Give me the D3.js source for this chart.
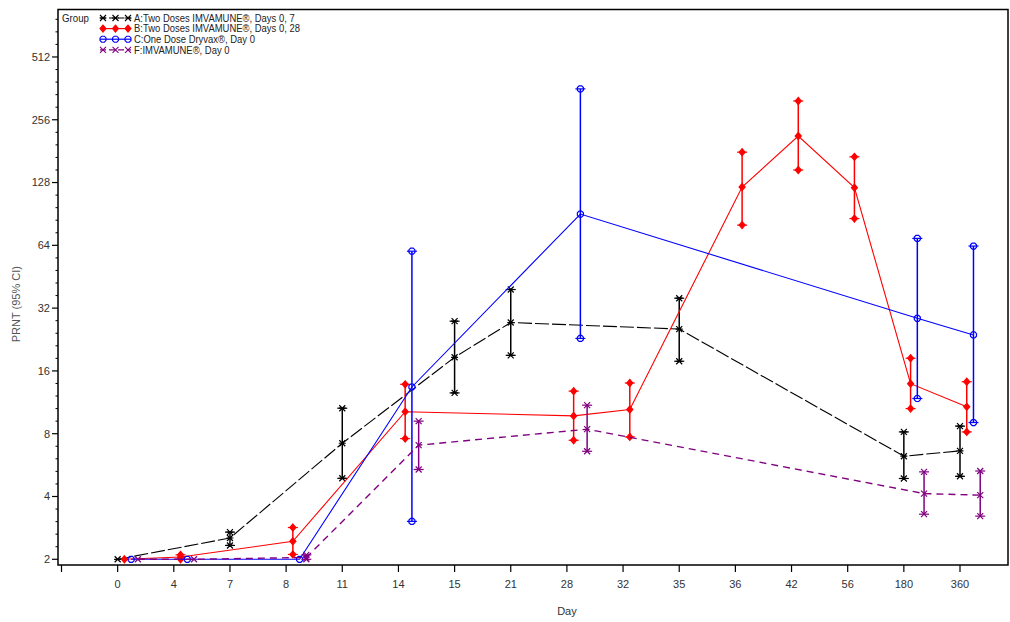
<!DOCTYPE html>
<html>
<head>
<meta charset="utf-8">
<script src="https://cdn.jsdelivr.net/npm/d3@7"></script>
<style>
  body { margin: 0; background: #fff; }
  text { font-family: "Liberation Sans", Arial, sans-serif; }
</style>
</head>
<body>
<div id="d3-container"></div>
<script>
/**
 * CONSTANTS AND GLOBALS
 * */
const width = 1010,
  height = 622,
  frame = { left: 58, right: 1008, top: 9.5, bottom: 565 };

// x categories (study days)
const days = ["0", "4", "7", "8", "11", "14", "15", "21", "28", "32", "35", "36", "42", "56", "180", "360"];

// y tick labels
const yTicks = [2, 4, 8, 16, 32, 64, 128, 256, 512];

// group A: two doses IMVAMUNE, days 0, 7
const aDays = ["0", "7", "11", "15", "21", "35", "180", "360"];
const aGmt = [2.0, 2.53, 7.2, 18.6, 27.3, 25.4, 6.24, 6.62];
const aLow = [2.0, 2.33, 4.89, 12.55, 19.0, 17.8, 4.88, 5.0];
const aHigh = [2.0, 2.7, 10.6, 27.7, 39.3, 35.7, 8.16, 8.7];

// group B: two doses IMVAMUNE, days 0, 28
const bDays = ["0", "4", "8", "14", "28", "32", "36", "42", "56", "180", "360"];
const bGmt = [2.0, 2.05, 2.44, 10.2, 9.74, 10.45, 121.8, 214, 121, 13.9, 10.76];
const bLow = [2.0, 2.0, 2.11, 7.58, 7.44, 7.72, 80, 147, 86, 10.56, 8.16];
const bHigh = [2.0, 2.1, 2.84, 13.8, 12.8, 14.0, 179, 315, 170, 18.4, 14.2];

// group C: one dose Dryvax, day 0
const cDays = ["0", "4", "8", "14", "28", "180", "360"];
const cGmt = [2.0, 2.0, 2.0, 13.4, 90.4, 28.6, 23.8];
const cLow = [2.0, 2.0, 2.0, 3.04, 22.9, 11.8, 9.05];
const cHigh = [2.0, 2.0, 2.0, 60, 360, 69.1, 63.5];

// group F: IMVAMUNE, day 0
const fDays = ["0", "4", "8", "14", "28", "180", "360"];
const fGmt = [2.0, 2.0, 2.04, 7.05, 8.41, 4.13, 4.06];
const fLow = [2.0, 2.0, 2.0, 5.39, 6.59, 3.29, 3.22];
const fHigh = [2.0, 2.0, 2.1, 9.19, 10.96, 5.25, 5.3];

const groupNames = [
  "A:Two Doses IMVAMUNE\u00ae, Days 0, 7",
  "B:Two Doses IMVAMUNE\u00ae, Days 0, 28",
  "C:One Dose Dryvax\u00ae, Day 0",
  "F:IMVAMUNE\u00ae, Day 0"
];

// styles per group (colour, dash, marker, small sideways shift so bars don't overlap)
const styles = [
  { color: "#000000", dash: "14,3", marker: "star", shift: 0, width: 1.1 },
  { color: "#ff0000", dash: null, marker: "diamond", shift: 0.12, width: 1.1 },
  { color: "#0000ff", dash: null, marker: "circle", shift: 0.24, width: 1.1 },
  { color: "#800080", dash: "7,5", marker: "x", shift: 0.36, width: 1.4 }
];

function makeSeries(dayList, gmt, low, high) {
  return dayList.map((d, i) => ({ day: d, gmt: gmt[i], low: low[i], high: high[i] }));
}

const series = [
  makeSeries(aDays, aGmt, aLow, aHigh),
  makeSeries(bDays, bGmt, bLow, bHigh),
  makeSeries(cDays, cGmt, cLow, cHigh),
  makeSeries(fDays, fGmt, fLow, fHigh)
];

let svg, x, y;

init();

function init() {
  svg = d3.select("#d3-container")
    .append("svg")
    .attr("width", width)
    .attr("height", height);

  // index scale for the categorical days (one blank slot left of day 0)
  x = d3.scaleLinear().domain([-1, 15]).range([61.5, 960]);
  y = d3.scaleLog().base(2)
    .domain([Math.pow(2, 0.909), Math.pow(2, 9.756)])
    .range([frame.bottom, frame.top]);

  const px = (day, s) => x(days.indexOf(day) + s.shift);

  // frame
  svg.append("rect")
    .attr("x", frame.left)
    .attr("y", frame.top)
    .attr("width", frame.right - frame.left)
    .attr("height", frame.bottom - frame.top)
    .attr("fill", "none")
    .attr("stroke", "#000")
    .attr("stroke-width", 1.5);

  // y axis major ticks + labels
  const yAxis = svg.append("g").attr("class", "y-axis");
  yAxis.selectAll("line.major")
    .data(yTicks)
    .join("line")
    .attr("class", "major")
    .attr("x1", frame.left - 6).attr("x2", frame.left)
    .attr("y1", d => y(d)).attr("y2", d => y(d))
    .attr("stroke", "#000").attr("stroke-width", 1.2);
  yAxis.selectAll("text")
    .data(yTicks)
    .join("text")
    .attr("x", frame.left - 8)
    .attr("y", d => y(d))
    .attr("dy", "0.35em")
    .attr("text-anchor", "end")
    .attr("font-size", 11)
    .attr("fill", "#333")
    .text(d => d);

  // minor ticks: 4 evenly in log space between each doubling
  const minors = [];
  [1].concat(yTicks).forEach(t => {
    for (let k = 1; k < 5; k++) minors.push(t * Math.pow(2, k / 5));
  });
  yAxis.selectAll("line.minor")
    .data(minors.filter(v => y(v) >= frame.top + 2 && y(v) <= frame.bottom - 1))
    .join("line")
    .attr("class", "minor")
    .attr("x1", frame.left - 2.5).attr("x2", frame.left)
    .attr("y1", d => y(d)).attr("y2", d => y(d))
    .attr("stroke", "#000").attr("stroke-width", 1);

  svg.append("text")
    .attr("transform", `translate(20,${(y(16) + y(64)) / 2 - 4}) rotate(-90)`)
    .attr("text-anchor", "middle")
    .attr("font-size", 11)
    .attr("fill", "#555")
    .text("PRNT (95% CI)");

  // x axis ticks + labels
  const xAxis = svg.append("g").attr("class", "x-axis");
  xAxis.selectAll("line")
    .data(d3.range(-1, 16))
    .join("line")
    .attr("x1", d => x(d)).attr("x2", d => x(d))
    .attr("y1", frame.bottom).attr("y2", frame.bottom + 7)
    .attr("stroke", "#000").attr("stroke-width", 1.2);
  xAxis.selectAll("text")
    .data(days)
    .join("text")
    .attr("x", (d, i) => x(i))
    .attr("y", frame.bottom + 23)
    .attr("text-anchor", "middle")
    .attr("font-size", 11)
    .attr("fill", "#333")
    .text(d => d);

  svg.append("text")
    .attr("x", x(8))
    .attr("y", 615)
    .attr("text-anchor", "middle")
    .attr("font-size", 11)
    .attr("fill", "#333")
    .text("Day");

  // series: lines, error bars, markers
  series.forEach((data, gi) => {
    const s = styles[gi];
    const g = svg.append("g").attr("class", "group-" + gi);

    const line = d3.line()
      .x(d => px(d.day, s))
      .y(d => y(d.gmt));

    g.append("path")
      .datum(data)
      .attr("d", line)
      .attr("fill", "none")
      .attr("stroke", s.color)
      .attr("stroke-width", s.width)
      .attr("stroke-dasharray", s.dash);

    const bars = data.filter(d => y(d.low) - y(d.high) > 1);
    g.selectAll("line.bar")
      .data(bars)
      .join("line")
      .attr("class", "bar")
      .attr("x1", d => px(d.day, s)).attr("x2", d => px(d.day, s))
      .attr("y1", d => y(d.low)).attr("y2", d => y(d.high))
      .attr("stroke", s.color)
      .attr("stroke-width", 1.5);

    const caps = [];
    bars.forEach(d => {
      caps.push({ day: d.day, v: d.low });
      caps.push({ day: d.day, v: d.high });
    });
    g.selectAll("line.cap")
      .data(caps)
      .join("line")
      .attr("class", "cap")
      .attr("x1", d => px(d.day, s) - 5).attr("x2", d => px(d.day, s) + 5)
      .attr("y1", d => y(d.v)).attr("y2", d => y(d.v))
      .attr("stroke", s.color)
      .attr("stroke-width", 1.2);

    const pts = data.map(d => ({ day: d.day, v: d.gmt })).concat(caps);
    g.selectAll("path.marker")
      .data(pts)
      .join("path")
      .attr("class", "marker")
      .attr("transform", d => `translate(${px(d.day, s)},${y(d.v)})`)
      .attr("d", markerPath(s.marker))
      .attr("fill", s.marker === "diamond" ? s.color : "none")
      .attr("stroke", s.color)
      .attr("stroke-width", 1.2);
  });

  // legend
  const legend = svg.append("g").attr("class", "legend");
  legend.append("text")
    .attr("transform", "translate(62,18) scale(0.88,1)")
    .attr("dy", "0.35em")
    .attr("font-size", 11)
    .attr("fill", "#222")
    .text("Group");
  groupNames.forEach((name, i) => {
    const s = styles[i];
    const ly = 18 + i * 10.6;
    legend.append("line")
      .attr("x1", 100).attr("x2", 131)
      .attr("y1", ly).attr("y2", ly)
      .attr("stroke", s.color)
      .attr("stroke-width", 1.2)
      .attr("stroke-dasharray", s.dash ? "6,3" : null);
    [103, 115.5, 128].forEach(mx => {
      legend.append("path")
        .attr("transform", `translate(${mx},${ly})`)
        .attr("d", markerPath(s.marker))
        .attr("fill", s.marker === "diamond" ? s.color : "none")
        .attr("stroke", s.color)
        .attr("stroke-width", 1.1);
    });
    legend.append("text")
      .attr("transform", `translate(134,${ly}) scale(0.86,1)`)
      .attr("dy", "0.35em")
      .attr("font-size", 11)
      .attr("fill", "#222")
      .text(name);
  });
}

function markerPath(type) {
  if (type === "diamond") return "M0,-3.5L3,0L0,3.5L-3,0Z";
  if (type === "circle") return "M-1.3,-3L1.3,-3L3,-1.3L3,1.3L1.3,3L-1.3,3L-3,1.3L-3,-1.3Z";
  if (type === "star") return "M-3,-3L3,3M-3,3L3,-3M-3.5,0L3.5,0";
  return "M-3,-3L3,3M-3,3L3,-3";
}
</script>
</body>
</html>
